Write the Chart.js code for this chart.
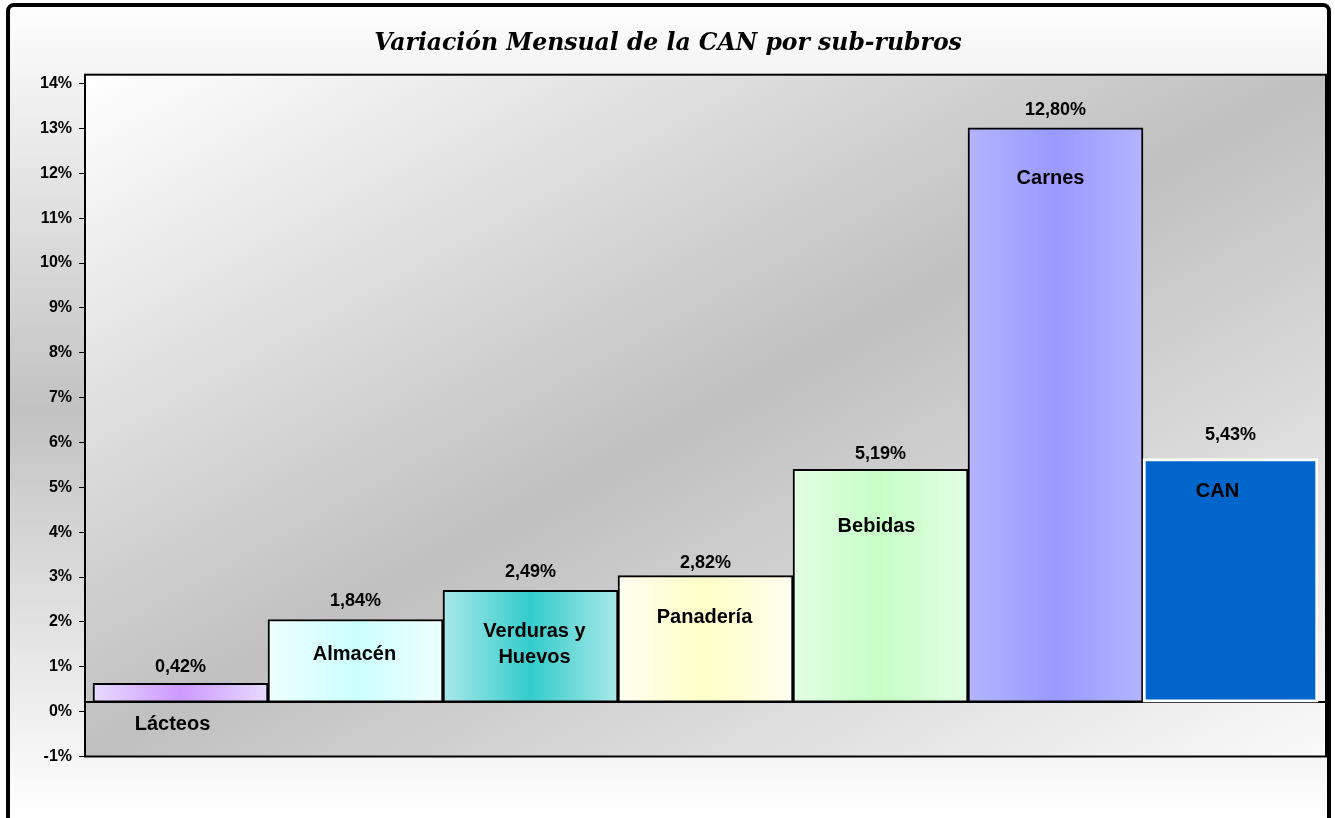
<!DOCTYPE html>
<html>
<head>
<meta charset="utf-8">
<script src="https://cdn.jsdelivr.net/npm/chart.js@4/dist/chart.umd.min.js"></script>
<style>
html,body{margin:0;padding:0;background:#fff;}
canvas{display:block;}
</style>
</head>
<body>
<canvas id="c" width="1335" height="818"></canvas>
<script>
// ---- data ----
const chartTitle = 'Variación Mensual de la CAN por sub-rubros';
const categories = ['Lácteos', 'Almacén', ['Verduras y', 'Huevos'], 'Panadería', 'Bebidas', 'Carnes', 'CAN'];
const values = [0.42, 1.84, 2.49, 2.82, 5.19, 12.80, 5.43];
const tickValues = [-1, 0, 1, 2, 3, 4, 5, 6, 7, 8, 9, 10, 11, 12, 13, 14];
const tickLabels = tickValues.map(v => v + '%');

// ---- styles ----
const centerColors = ['#cc99ff', '#ccffff', '#33cccc', '#ffffc6', '#c6ffc6', '#9999ff', '#0066cc'];
const edgeColors   = ['#e8dbff', '#eeffff', '#aae8e8', '#fffff0', '#e2ffe2', '#b4b4ff', '#0066cc'];
const borderColors = ['#000', '#000', '#000', '#000', '#000', '#000', '#fff'];
const borderWidths = [2, 2, 2, 2, 2, 2, 3];
const valueGap = [16, 18, 18, 13, 15, 18, 23];
const catDy = [41, 35, 41, 42, 57, 51, 33];
const catDx = [-8, -1, 4, -1, -4, -5, -13];

Chart.defaults.font.family = "'Liberation Sans', Arial, sans-serif";
Chart.defaults.color = '#000';

const fmt = v => v.toFixed(2).replace('.', ',') + '%';

const bgPlugin = {
  id: 'bg',
  beforeDraw(chart) {
    const {ctx, chartArea: a, width, height} = chart;
    ctx.save();
    ctx.fillStyle = '#fff';
    ctx.fillRect(0, 0, width, height);
    const g = ctx.createLinearGradient(0, 0, 0, height);
    g.addColorStop(0, '#ffffff');
    g.addColorStop(0.5, '#c2c2c2');
    g.addColorStop(1, '#ffffff');
    ctx.fillStyle = g;
    ctx.fillRect(8, 5, width - 14, height);
    // plot area diagonal gradient
    ctx.translate(a.left, a.top);
    ctx.scale(a.right - a.left, a.bottom - a.top);
    const pg = ctx.createLinearGradient(0, 0, 1, 1);
    pg.addColorStop(0, '#ffffff');
    pg.addColorStop(0.5, '#c0c0c0');
    pg.addColorStop(1, '#fafafa');
    ctx.fillStyle = pg;
    ctx.fillRect(0, 0, 1, 1);
    ctx.restore();
  },
  beforeDatasetsDraw(chart) {
    const {ctx, chartArea: a, scales} = chart;
    const y0 = scales.y.getPixelForValue(0);
    ctx.save();
    ctx.strokeStyle = '#000';
    ctx.lineWidth = 2;
    ctx.beginPath();
    ctx.moveTo(a.left, y0);
    ctx.lineTo(a.right, y0);
    ctx.stroke();
    ctx.restore();
  },
  afterDatasetsDraw(chart) {
    const {ctx} = chart;
    const meta = chart.getDatasetMeta(0);
    ctx.save();
    ctx.fillStyle = '#000';
    ctx.textAlign = 'center';
    ctx.textBaseline = 'middle';
    meta.data.forEach((bar, i) => {
      ctx.font = "bold 18px 'Liberation Sans', Arial, sans-serif";
      ctx.fillText(fmt(values[i]), bar.x, bar.y - valueGap[i]);
      ctx.font = "bold 20px 'Liberation Sans', Arial, sans-serif";
      const lines = Array.isArray(categories[i]) ? categories[i] : [categories[i]];
      lines.forEach((ln, k) => {
        ctx.fillText(ln, bar.x + catDx[i], bar.y + catDy[i] + k * 26);
      });
    });
    ctx.restore();
  },
  afterDraw(chart) {
    const {ctx, chartArea: a, width} = chart;
    ctx.save();
    ctx.strokeStyle = '#000';
    ctx.lineWidth = 2;
    ctx.strokeRect(a.left, a.top, a.right - a.left, a.bottom - a.top);
    // outer frame
    ctx.lineWidth = 4;
    ctx.lineJoin = 'round';
    const x = 8, y = 5, w = width - 14, h = 860, r = 6;
    ctx.beginPath();
    ctx.moveTo(x + r, y);
    ctx.arcTo(x + w, y, x + w, y + h, r);
    ctx.arcTo(x + w, y + h, x, y + h, r);
    ctx.arcTo(x, y + h, x, y, r);
    ctx.arcTo(x, y, x + w, y, r);
    ctx.closePath();
    ctx.stroke();
    ctx.restore();
  }
};

const barFill = (c) => {
  const i = c.dataIndex;
  if (i === undefined) return centerColors[0];
  const xs = c.chart.scales && c.chart.scales.x;
  if (!xs || !xs.width) return centerColors[i];
  const l = xs.getPixelForValue(i - 0.5);
  const r = xs.getPixelForValue(i + 0.5);
  const g = c.chart.ctx.createLinearGradient(l, 0, r, 0);
  g.addColorStop(0, edgeColors[i]);
  g.addColorStop(0.5, centerColors[i]);
  g.addColorStop(1, edgeColors[i]);
  return g;
};

new Chart(document.getElementById('c'), {
  type: 'bar',
  data: {
    datasets: [{
      data: values.map((v, i) => ({x: i, y: v})),
      backgroundColor: barFill,
      borderColor: borderColors,
      borderWidth: borderWidths,
      borderSkipped: false,
      barPercentage: 1,
      categoryPercentage: 1,
      yAxisID: 'y',
      xAxisID: 'x'
    }]
  },
  options: {
    responsive: false,
    animation: false,
    layout: {padding: {left: 10, right: 9, top: 0, bottom: 61.5}},
    plugins: {
      legend: {display: false},
      tooltip: {enabled: false},
      title: {
        display: true,
        text: chartTitle,
        color: '#000',
        font: {family: "'DejaVu Serif', serif", size: 23.5, weight: 'bold', style: 'italic'},
        padding: {top: 30, bottom: 16.5}
      }
    },
    scales: {
      x: {
        type: 'linear',
        display: false,
        offset: false,
        min: -0.5457,
        max: 6.5457,
        grid: {offset: false},
        afterBuildTicks: s => { s.ticks = values.map((v, i) => ({value: i})); }
      },
      y: {
        type: 'linear',
        display: false,
        min: -1.214,
        max: 13.986
      },
      yt: {
        type: 'linear',
        position: 'left',
        min: -1,
        max: 14.2,
        afterBuildTicks: s => { s.ticks = tickValues.map(v => ({value: v})); },
        afterFit: s => { s.width = 75; },
        ticks: {
          callback: (v, idx) => tickLabels[idx],
          font: {size: 16, weight: 'bold'},
          color: '#000',
          padding: 7,
          autoSkip: false
        },
        grid: {drawOnChartArea: false, drawTicks: true, tickLength: 6, color: '#000', lineWidth: 1},
        border: {display: false}
      }
    }
  },
  plugins: [bgPlugin]
});
</script>
</body>
</html>
